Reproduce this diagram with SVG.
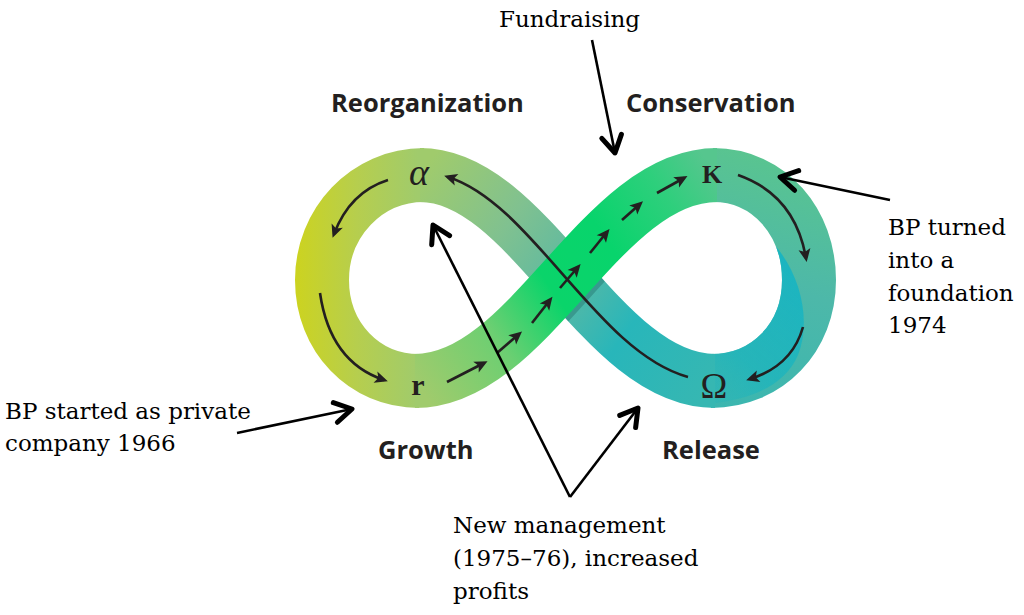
<svg xmlns="http://www.w3.org/2000/svg" width="1024" height="615" viewBox="0 0 1024 615">
<style>
.band{fill:none;stroke-width:54;stroke-linecap:butt}
.flow{fill:none;stroke:#231f20;stroke-width:2.6;marker-end:url(#tri)}
.ann{fill:none;stroke:#000;stroke-width:2.6;marker-end:url(#chev)}
.phase{font-family:"Open Sans",sans-serif;font-weight:700;font-size:25.5px;fill:#231f20}
.note{font-family:"DejaVu Serif",serif;font-size:23px;fill:#000}
.greek{font-family:"Liberation Serif",serif;fill:#231f20}
</style>
<defs>
<marker id="tri" viewBox="-14 -8 16 16" refX="-3" refY="0" markerWidth="16" markerHeight="16" markerUnits="userSpaceOnUse" orient="auto"><path d="M1,0 L-12,-6 L-9,0 L-12,6 Z" fill="#231f20"/></marker>
<marker id="chev" viewBox="-24 -14 28 28" refX="0" refY="0" markerWidth="28" markerHeight="28" markerUnits="userSpaceOnUse" orient="auto"><path d="M-17,-10 L0,0 L-17,10" fill="none" stroke="#000" stroke-width="5" stroke-linecap="round" stroke-linejoin="round"/></marker>
<linearGradient id="gLeft" gradientUnits="userSpaceOnUse" x1="296" y1="0" x2="418" y2="0"><stop offset="0" stop-color="#ccd320"/><stop offset="0.5" stop-color="#b6ce4e"/><stop offset="1" stop-color="#a0cb6c"/></linearGradient>
<linearGradient id="gDesc" gradientUnits="userSpaceOnUse" x1="420" y1="175" x2="715" y2="381"><stop offset="0" stop-color="#a0cb6c"/><stop offset="0.28" stop-color="#80c190"/><stop offset="0.5" stop-color="#5cb9a2"/><stop offset="0.72" stop-color="#28b6ba"/><stop offset="1" stop-color="#36b7b2"/></linearGradient>
<linearGradient id="gAsc" gradientUnits="userSpaceOnUse" x1="415" y1="381" x2="717" y2="175"><stop offset="0" stop-color="#a0cb6c"/><stop offset="0.25" stop-color="#6ccf72"/><stop offset="0.45" stop-color="#0ad46a"/><stop offset="0.65" stop-color="#08d46c"/><stop offset="0.85" stop-color="#2ecf7c"/><stop offset="1" stop-color="#56c68e"/></linearGradient>
<linearGradient id="gRight" gradientUnits="userSpaceOnUse" x1="700" y1="410" x2="760" y2="145"><stop offset="0" stop-color="#3ab6b0"/><stop offset="0.5" stop-color="#4db8a9"/><stop offset="1" stop-color="#5ac58e"/></linearGradient>
<linearGradient id="gCyan" gradientUnits="userSpaceOnUse" x1="800" y1="260" x2="680" y2="405"><stop offset="0" stop-color="#14b4c4" stop-opacity="0.9"/><stop offset="0.6" stop-color="#1ab4be" stop-opacity="0.7"/><stop offset="1" stop-color="#1ab4be" stop-opacity="0"/></linearGradient>
<mask id="mRight" maskUnits="userSpaceOnUse" x="0" y="0" width="1024" height="615"><path d="M711,381 C768,381 809,337 809,280 C809,223 770,175 713,175" fill="none" stroke="#fff" stroke-width="54"/></mask>
<mask id="mDesc" maskUnits="userSpaceOnUse" x="0" y="0" width="1024" height="615"><path d="M420,175 C530,175 600,381 715,381" fill="none" stroke="#fff" stroke-width="54"/></mask>
</defs>

<g id="loop">
<path class="band" stroke="url(#gLeft)" d="M424,175 C366,175 322,223 322,280 C322,337 364,381 419,381"/>
<path class="band" stroke="url(#gRight)" d="M711,381 C768,381 809,337 809,280 C809,223 770,175 713,175"/>
<path d="M770,240 C800,270 812,320 798,355 C783,390 740,405 680,405 L640,300 Z" fill="url(#gCyan)" mask="url(#mRight)"/>
<path class="band" stroke="url(#gDesc)" d="M420,175 C530,175 600,381 715,381"/>
<path d="M417,384 C532,384 602,178 719,178" fill="none" stroke="#0b4a48" stroke-opacity="0.28" stroke-width="56" mask="url(#mDesc)"/>
<path class="band" stroke="url(#gAsc)" d="M415,381 C530,381 600,175 717,175"/>
</g>

<g id="node-alpha"><text class="greek" x="419" y="185" font-size="38" font-style="italic" text-anchor="middle">α</text></g>
<g id="node-K"><text class="greek" x="712" y="183" font-size="26" font-weight="700" text-anchor="middle">K</text></g>
<g id="node-omega"><text class="greek" x="714" y="398" font-size="36" text-anchor="middle">Ω</text></g>
<g id="node-r"><text class="greek" x="418" y="395" font-size="30" font-weight="700" text-anchor="middle">r</text></g>

<g id="cycle-arrows">
<path class="flow" d="M388,180 Q350,192 334,234"/>
<path class="flow" d="M320,293 Q330,362 384,380"/>
<path class="flow" d="M447,382 L484,363"/>
<path class="flow" d="M497,353 L519,334"/>
<path class="flow" d="M532,323 L550,300"/>
<path class="flow" d="M560,288 L578,267"/>
<path class="flow" d="M590,253 L607,232"/>
<path class="flow" d="M622,220 L640,204"/>
<path class="flow" d="M657,193 L684,178"/>
<path class="flow" d="M738,175 Q795,195 806,258"/>
<path class="flow" d="M803,327 Q792,366 750,379"/>
<path class="flow" d="M688,377 C597,352 533,204 448,177"/>
</g>

<g id="phase-labels">
<text class="phase" x="331" y="112">Reorganization</text>
<text class="phase" x="626" y="112">Conservation</text>
<text class="phase" x="378" y="459">Growth</text>
<text class="phase" x="662" y="459">Release</text>
</g>

<g id="note-fundraising"><text class="note" x="499" y="27">Fundraising</text></g>
<g id="note-started"><text class="note" x="5" y="419">BP started as private</text><text class="note" x="5" y="451">company 1966</text></g>
<g id="note-foundation"><text class="note" x="888" y="235">BP turned</text><text class="note" x="888" y="268">into a</text><text class="note" x="888" y="301">foundation</text><text class="note" x="888" y="333">1974</text></g>
<g id="note-management"><text class="note" x="453" y="533">New management</text><text class="note" x="453" y="566">(1975–76), increased</text><text class="note" x="453" y="599">profits</text></g>

<g id="connectors">
<path class="ann" d="M592,40 L615,153"/>
<path class="ann" d="M237,433 L352,409"/>
<path class="ann" d="M890,200 L780,177"/>
<path class="ann" d="M570,497 L433,225"/>
<path class="ann" d="M570,497 L638,408"/>
</g>
</svg>
